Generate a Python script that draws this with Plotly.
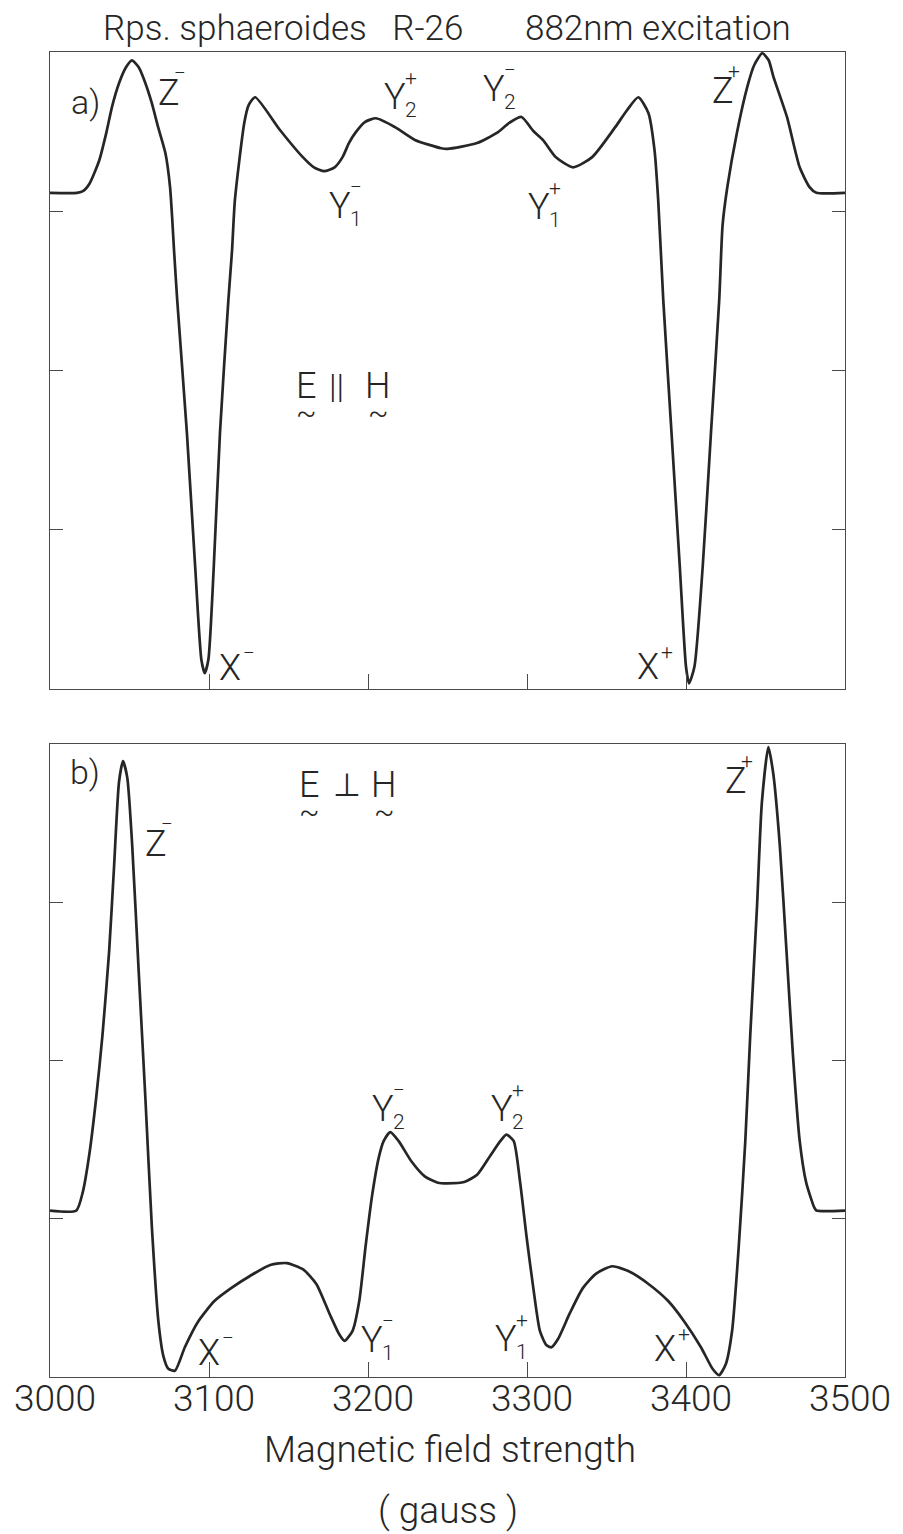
import plotly.graph_objects as go

# ---- field axis (gauss) and signal (arbitrary units, 0-100 per panel) ----
field_par = [3000, 3017, 3021, 3025, 3031, 3035.4, 3039, 3043.4, 3047.8, 3051.5,
             3055.8, 3060, 3064, 3068, 3072.6, 3075.5, 3076.8, 3078, 3080.0, 3086.1,
             3091.3, 3095.2, 3097.3, 3099.6, 3103.0, 3106.9, 3112.2, 3114.5, 3116.3, 3122.2,
             3125, 3129, 3144.5, 3159, 3166, 3172.5, 3179, 3184, 3188, 3192,
             3198, 3205, 3217, 3229.5, 3246, 3250, 3268.6, 3281, 3289, 3296.5,
             3304, 3310, 3318, 3329, 3341, 3355.5, 3363, 3370, 3376.4, 3380.2,
             3382.5, 3385.7, 3390.9, 3396.1, 3400.0, 3401.9, 3405.3, 3410.5, 3415.7, 3420.9,
             3423, 3426, 3432, 3438.5, 3443, 3448, 3452, 3455, 3463.5, 3471.5,
             3477.7, 3482, 3500]
signal_par = [77.9, 77.9, 78.2, 79.4, 83.0, 87.3, 91.4, 95.1, 97.6, 98.7,
              97.6, 95.1, 92.0, 88.2, 84.1, 78.8, 74.1, 68.9, 61.1, 40.2,
              19.2, 4.6, 2.5, 4.6, 19.2, 40.2, 61.1, 68.9, 76.8, 88.9,
              91.7, 92.9, 87.8, 83.5, 81.9, 81.3, 81.9, 83.5, 85.7, 87.3,
              89.0, 89.6, 88.2, 86.2, 84.9, 84.8, 85.7, 87.3, 88.9, 89.8,
              87.6, 86.2, 83.5, 81.9, 83.5, 88.2, 90.9, 92.9, 90.4, 84.6,
              76.8, 61.1, 40.2, 19.2, 3.5, 0.9, 3.5, 19.2, 40.2, 61.1,
              72.8, 78.8, 87.3, 94.5, 98.0, 99.8, 98.7, 96.1, 89.8, 81.9,
              78.8, 77.9, 77.9]

field_perp = [3000, 3016.5, 3020.7, 3024.8, 3029, 3033, 3037.2, 3040.3, 3043.4, 3045.9,
              3048.6, 3051.7, 3055.8, 3060, 3064, 3068.2, 3071.3, 3074.4, 3078.6, 3084.8,
              3093, 3103.4, 3113.7, 3126, 3138.5, 3148.9, 3159.2, 3167.5, 3175.8, 3182,
              3185.2, 3190.3, 3194.5, 3198.5, 3202.6, 3206.8, 3209.9, 3214, 3219.2, 3227.5,
              3235.7, 3244, 3250, 3260.5, 3268.8, 3277, 3283.3, 3287, 3291.6, 3295.7,
              3299.8, 3304, 3308.1, 3312.3, 3315.4, 3319.5, 3326.8, 3335, 3343.3, 3353.6,
              3364, 3376.4, 3388.8, 3399.1, 3409.4, 3416.7, 3420.8, 3425, 3429, 3433.2,
              3437.3, 3440.4, 3444.6, 3447.7, 3451.8, 3454.9, 3459, 3463.2, 3467.3, 3471.5,
              3475.6, 3480.8, 3482, 3500]
signal_perp = [26.3, 26.3, 29.3, 35.3, 44, 54, 67.3, 80.7, 94, 97.3,
               94.7, 84, 64, 44, 24, 8.7, 3.3, 1.3, 1.0, 4.7,
               8.7, 12, 14, 16, 17.7, 18, 17, 14.7, 10, 6.7,
               5.7, 7.3, 12, 20.7, 28.7, 34.7, 37.3, 38.7, 37.3, 34,
               31.7, 30.7, 30.6, 30.8, 32, 35, 37.3, 38.3, 37.3, 30.7,
               22, 14, 7.3, 5, 4.7, 6, 10, 14, 16.3, 17.5,
               16.7, 14.7, 12, 8.7, 4.7, 1.3, 0.3, 2, 7.3, 20.7,
               37.3, 54, 74, 90.7, 99.5, 95.3, 84, 67.3, 50.7, 37.3,
               30.7, 26.7, 26.3, 26.3]

field_ticks = [3000, 3100, 3200, 3300, 3400, 3500]
signal_ticks = [25, 50, 75]

INK = "#262626"
FRAME = "#4a4a4a"
FONT = "Roboto"

fig = go.Figure()
fig.add_trace(go.Scatter(x=field_par, y=signal_par, mode="lines",
                         line=dict(color=INK, width=2.7, shape="spline", smoothing=0.6),
                         xaxis="x", yaxis="y", showlegend=False, hoverinfo="skip"))
fig.add_trace(go.Scatter(x=field_perp, y=signal_perp, mode="lines",
                         line=dict(color=INK, width=2.7, shape="spline", smoothing=0.6),
                         xaxis="x2", yaxis="y2", showlegend=False, hoverinfo="skip"))

xcommon = dict(range=[3000, 3500], tickvals=field_ticks[1:-1], ticks="inside", ticklen=15,
               tickwidth=1.3, tickcolor=FRAME, showline=True, linecolor=FRAME, linewidth=1.4,
               mirror=True, showgrid=False, zeroline=False, fixedrange=True)
ycommon = dict(range=[0, 100], tickvals=signal_ticks, ticks="inside", ticklen=13,
               tickwidth=1.3, tickcolor=FRAME, showline=True, linecolor=FRAME, linewidth=1.4,
               mirror="ticks", showgrid=False, zeroline=False, showticklabels=False,
               fixedrange=True)

fig.update_layout(
    width=903, height=1534,
    margin=dict(l=50, r=47, t=52, b=157),
    paper_bgcolor="white", plot_bgcolor="white",
    font=dict(family=FONT, color=INK, weight=300),
    xaxis=dict(xcommon, anchor="y", domain=[0, 1], showticklabels=False),
    yaxis=dict(ycommon, anchor="x", domain=[0.5192, 1.0]),
    xaxis2=dict(xcommon, anchor="y2", domain=[0, 1], showticklabels=True,
                tickmode="array", tickvals=field_ticks,
                ticktext=[str(t) for t in field_ticks],
                tickfont=dict(family=FONT, size=37, color=INK, weight=300),
                ticklabelstandoff=-12, ticklabelshift=5),
    yaxis2=dict(ycommon, anchor="x2", domain=[0, 0.4777]),
)

# Pixel offsets of superscript / subscript relative to the centre of the letter
SUP_SHIFT = {"Y": (16, 19), "Z": (11, 20), "X": (19, 15)}
SUB_SHIFT = {"Y": (16, -13)}
BIG, SMALL = 36, 21

# Peak labels: (letter, field, signal, superscript, subscript)
peaks_par = [
    ("Z", 3074.8, 93.5, "\u2212", ""),
    ("Y", 3217.1, 92.9, "+", "2"),
    ("Y", 3182.4, 75.8, "\u2212", "1"),
    ("Y", 3279.2, 94.2, "\u2212", "2"),
    ("Y", 3307.7, 75.6, "+", "1"),
    ("Z", 3423.1, 93.9, "+", ""),
    ("X", 3112.9, 3.3, "\u2212", ""),
    ("X", 3375.9, 3.5, "+", ""),
]
peaks_perp = [
    ("Z", 3066.4, 84.2, "\u2212", ""),
    ("Y", 3209.7, 42.4, "\u2212", "2"),
    ("Y", 3202.2, 5.9, "\u2212", "1"),
    ("X", 3099.9, 3.8, "\u2212", ""),
    ("Y", 3284.1, 42.4, "+", "2"),
    ("Y", 3286.6, 6.0, "+", "1"),
    ("X", 3387.1, 4.4, "+", ""),
    ("Z", 3431.4, 94.2, "+", ""),
]
# Panel tags and field orientation: (text, field, signal, size)
notes_par = [
    ("a)", 3022.3, 92.2, 34),
    ("E", 3161.3, 47.6, 36), ("||", 3180.5, 47.6, 34), ("H", 3206.6, 47.6, 36),
    ("~", 3161.3, 43.4, 30), ("~", 3206.6, 43.4, 30),
]
notes_perp = [
    ("b)", 3022.3, 95.6, 34),
    ("E", 3163.2, 93.5, 36), ("\u22a5", 3186.7, 93.5, 32), ("H", 3210.3, 93.5, 36),
    ("~", 3163.2, 89.4, 30), ("~", 3210.3, 89.4, 30),
]


def txt(text, x, y, xr, yr, size, dx=0, dy=0):
    fig.add_annotation(text=text, x=x, y=y, xref=xr, yref=yr, xshift=dx, yshift=dy,
                       showarrow=False, xanchor="center", yanchor="middle",
                       font=dict(family=FONT, size=size, color=INK, weight=300))


for (xr, yr), peaks, notes in (
        (("x", "y"), peaks_par, notes_par),
        (("x2", "y2"), peaks_perp, notes_perp)):
    for letter, gx, sv, sup, sub in peaks:
        txt(letter, gx, sv, xr, yr, BIG)
        if sup:
            dx, dy = SUP_SHIFT[letter]
            txt(sup, gx, sv, xr, yr, SMALL, dx, dy)
        if sub:
            dx, dy = SUB_SHIFT[letter]
            txt(sub, gx, sv, xr, yr, SMALL, dx, dy)
    for text, gx, sv, size in notes:
        txt(text, gx, sv, xr, yr, size)

# Header and axis title
for text, px, py, anchor, size in [
    ("Rps. sphaeroides&nbsp;&nbsp;&nbsp;R-26", 102, 29, "left", 35),
    ("882nm excitation", 530, 29, "left", 35),
    ("Magnetic field strength", 456, 1449, "center", 37),
    ("( gauss )", 454, 1510, "center", 37),
]:
    fig.add_annotation(text=text, x=(px - 50) / 806, y=(1377 - py) / 1325,
                       xref="paper", yref="paper", showarrow=False,
                       xanchor=anchor, yanchor="middle",
                       font=dict(family=FONT, size=size, color=INK, weight=300))

fig.write_html("out.html")
